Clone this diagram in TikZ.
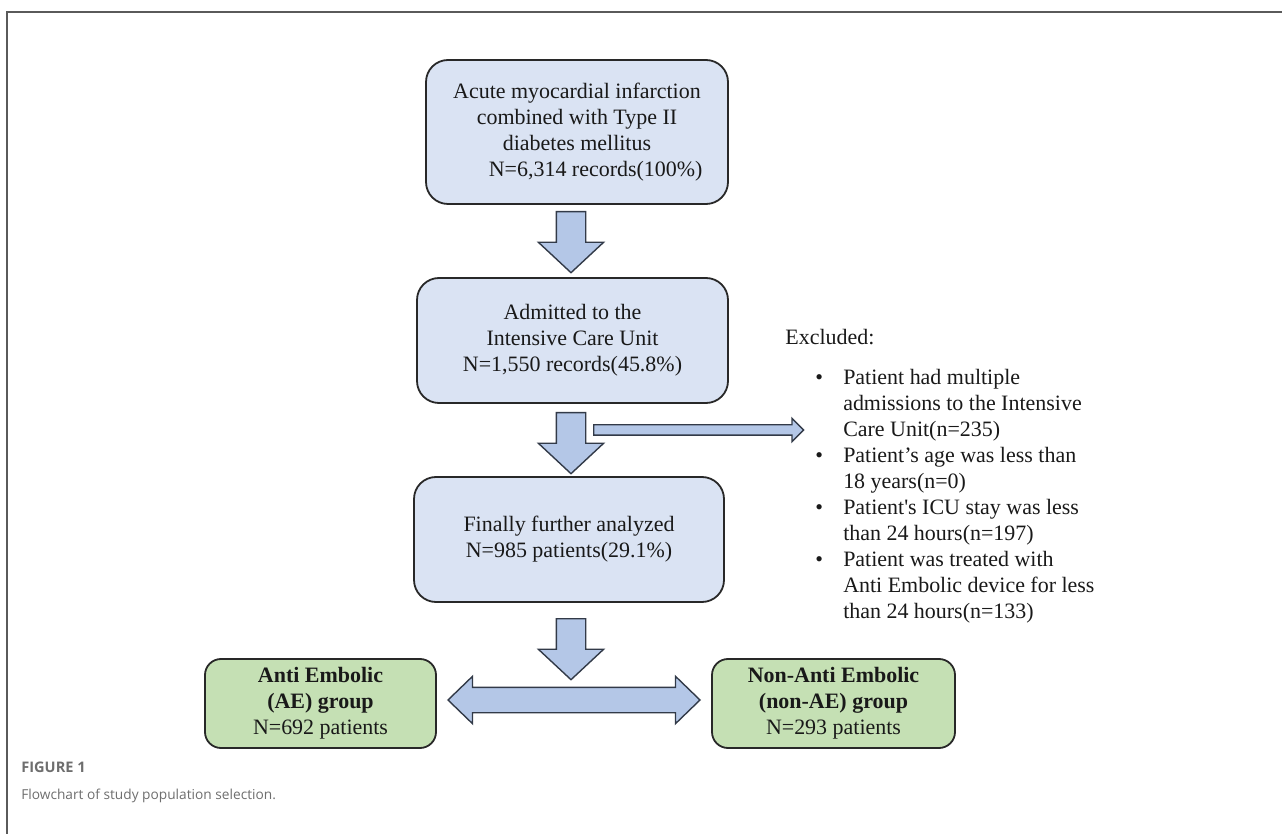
\documentclass[tikz,border=0pt]{standalone}
\usepackage{fontspec}
\setmainfont{Liberation Serif}
\newfontfamily\capfont{Open Sans}
\usepackage{tikz}
\usetikzlibrary{shapes.arrows}
\definecolor{boxblue}{RGB}{218,227,243}
\definecolor{arrowblue}{RGB}{180,199,231}
\definecolor{boxgreen}{RGB}{197,224,180}
\definecolor{edgegray}{RGB}{40,40,40}
\definecolor{arrowedge}{RGB}{50,58,72}
\definecolor{framegray}{RGB}{90,90,90}
\definecolor{capgray}{RGB}{110,110,110}
\newlength{\unitpx}
\setlength{\unitpx}{0.02cm}

\begin{document}
\begin{tikzpicture}[x=0.02cm, y=-0.02cm,
    flowbox/.style={draw=edgegray, fill=boxblue, line width=1.8\unitpx, rounded corners=22\unitpx,
      align=center, inner sep=0pt, font=\fontsize{12.5}{14.8}\selectfont, text=black!90},
    groupbox/.style={flowbox, fill=boxgreen, rounded corners=16\unitpx},
    plaintext/.style={inner sep=0pt, font=\fontsize{12.5}{14.8}\selectfont, text=black!90},
    downarrow/.style={single arrow, draw=arrowedge, fill=arrowblue, line width=1.4\unitpx, rotate=-90,
      inner xsep=0pt, inner ysep=14\unitpx, single arrow head extend=18\unitpx,
      single arrow tip angle=94, single arrow head indent=0pt, minimum height=61\unitpx, anchor=tail},
    sidearrow/.style={single arrow, draw=arrowedge, fill=arrowblue, line width=1.4\unitpx,
      inner xsep=0pt, inner ysep=4.5\unitpx, single arrow head extend=6.5\unitpx,
      single arrow tip angle=90, single arrow head indent=0pt, minimum height=210\unitpx, anchor=tail},
    splitarrow/.style={double arrow, draw=arrowedge, fill=arrowblue, line width=1.4\unitpx,
      inner xsep=0pt, inner ysep=12\unitpx, double arrow head extend=11\unitpx,
      double arrow tip angle=88, double arrow head indent=0pt, minimum height=252\unitpx}]
    \useasboundingbox (0,0) rectangle (1282,834);
    \draw[framegray, line width=1.5\unitpx] (7,834) -- (7,12) -- (1282,12);
    \node[flowbox, minimum width=302\unitpx, minimum height=144\unitpx] (amidm) at (577,132)
      {Acute myocardial infarction\\combined with Type II\\diabetes mellitus\\\hspace*{1.7em}N=6,314 records(100\%)};
    \node[flowbox, minimum width=311\unitpx, minimum height=125\unitpx] (icu) at (572.5,340.5)
      {Admitted to the\\Intensive Care Unit\\N=1,550 records(45.8\%)};
    \node[flowbox, minimum width=310\unitpx, minimum height=125\unitpx] (final) at (569,539.5)
      {Finally further analyzed\\N=985 patients(29.1\%)};
    \node[groupbox, minimum width=231\unitpx, minimum height=89\unitpx] (ae) at (320.5,703.5)
      {\textbf{Anti Embolic}\\\textbf{(AE) group}\\N=692 patients};
    \node[groupbox, minimum width=243\unitpx, minimum height=89\unitpx] (nonae) at (833.5,703.5)
      {\textbf{Non-Anti Embolic}\\\textbf{(non-AE) group}\hspace*{0.5em}\\N=293 patients};
    \node[downarrow] (a) at (571,211) {};
    \node[downarrow] (b) at (571,412) {};
    \node[downarrow] (c) at (571,618) {};
    \node[sidearrow] (d) at (593,430) {};
    \node[splitarrow] (e) at (574,700) {};
    \node[plaintext, anchor=base west] (excl) at (785,345) {Excluded:};
    \node[plaintext, anchor=north west] (reasons) at (815,366) {%
      \begin{tabular}{@{}l@{\hspace{11.5pt}}l@{}}
        \textbullet & Patient had multiple\\
                    & admissions to the Intensive\\
                    & Care Unit(n=235)\\
        \textbullet & Patient’s age was less than\\
                    & 18 years(n=0)\\
        \textbullet & Patient\textquotesingle s ICU stay was less\\
                    & than 24 hours(n=197)\\
        \textbullet & Patient was treated with\\
                    & Anti Embolic device for less\\
                    & than 24 hours(n=133)
      \end{tabular}};
    \node[anchor=base west, inner sep=0pt, font=\capfont\bfseries\fontsize{8.3}{10}\selectfont, text=capgray] (figlabel) at (21,772) {FIGURE 1};
    \node[anchor=base west, inner sep=0pt, font=\capfont\fontsize{7.8}{10}\selectfont, text=capgray] (figcaption) at (21,799) {Flowchart of study population selection.};
  \end{tikzpicture}
\end{document}
